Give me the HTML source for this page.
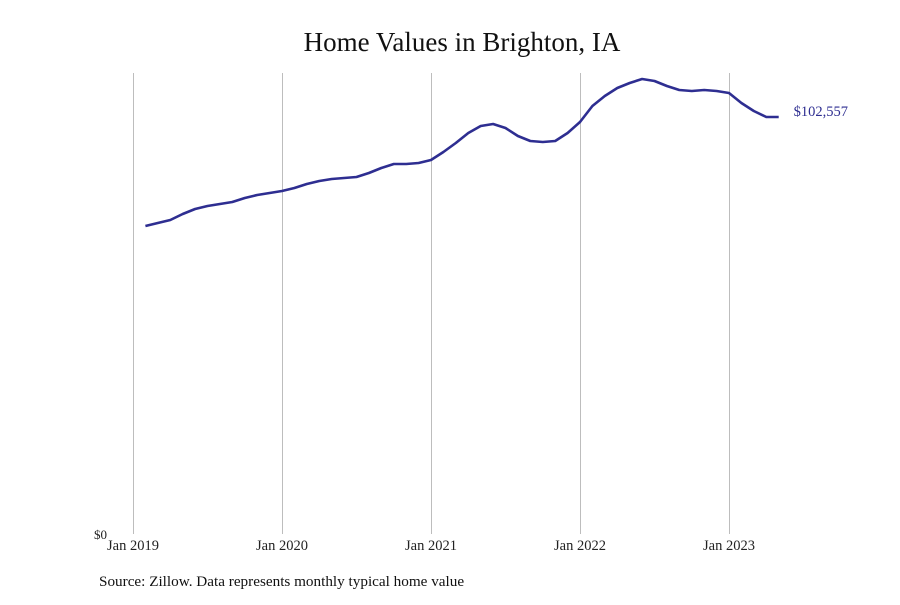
<!DOCTYPE html>
<html><head><meta charset="utf-8">
<style>
body{margin:0;background:#fff;}
svg text{font-family:"Liberation Serif",serif;}
</style></head>
<body>
<svg id="chart" width="900" height="600" viewBox="0 0 900 600" xmlns="http://www.w3.org/2000/svg">
<rect width="900" height="600" fill="#fff"/>
<text x="462" y="51" text-anchor="middle" font-size="27" fill="#111">Home Values in Brighton, IA</text>
<g id="grid"></g>
<g id="xlabels"></g>
<text x="94" y="539" font-size="13" fill="#222">$0</text>
<path id="line" fill="none" stroke="#2e2e91" stroke-width="2.6" stroke-linejoin="round"/>
<text id="endlabel" font-size="14.5" fill="#2e2e91"></text>
<text x="99" y="586" font-size="15.2" fill="#111">Source: Zillow. Data represents monthly typical home value</text>
</svg>
<script>
const tickLabels = ["Jan 2019","Jan 2020","Jan 2021","Jan 2022","Jan 2023"];
const startMonth = 1; // Feb 2019 (months since Jan 2019)
const values = [75750,76490,77225,78700,79930,80670,81160,81650,82630,83370,83870,
84360,85100,86080,86820,87310,87550,87800,88780,90010,91000,91000,91240,
91980,93950,96160,98620,100340,100830,99850,97880,96650,96410,96650,98620,
101330,105260,107720,109690,110920,111900,111410,110180,109200,108950,109200,108950,
108460,106000,104030,102557,102557];
const x = m => 133 + m * 149 / 12;
const y = v => 534 - v * (417 / 102557);
const ns = "http://www.w3.org/2000/svg";
const grid = document.getElementById('grid');
const xl = document.getElementById('xlabels');
tickLabels.forEach((t, i) => {
  const l = document.createElementNS(ns, 'line');
  
  
  l.setAttribute('x1', x(i * 12) + 0.5); l.setAttribute('x2', x(i * 12) + 0.5);
  l.setAttribute('y1', 73); l.setAttribute('y2', 534);
  l.setAttribute('stroke', '#bdbdbd'); l.setAttribute('stroke-width', '1');
  grid.appendChild(l);
  const tx = document.createElementNS(ns, 'text');
  
  
  tx.setAttribute('x', x(i * 12)); tx.setAttribute('y', 550);
  tx.setAttribute('text-anchor', 'middle'); tx.setAttribute('font-size', '14.5'); tx.setAttribute('fill', '#222');
  tx.textContent = t;
  xl.appendChild(tx);
});
let d = '';
values.forEach((v, i) => { d += (i ? 'L' : 'M') + x(startMonth + i).toFixed(1) + ',' + y(v).toFixed(1); });
document.getElementById('line').setAttribute('d', d);
const last = values[values.length - 1];
const el = document.getElementById('endlabel');
el.setAttribute('x', x(startMonth + values.length - 1) + 15);
el.setAttribute('y', y(last) - 1);
el.textContent = '$' + last.toLocaleString('en-US');
</script>
</body></html>
